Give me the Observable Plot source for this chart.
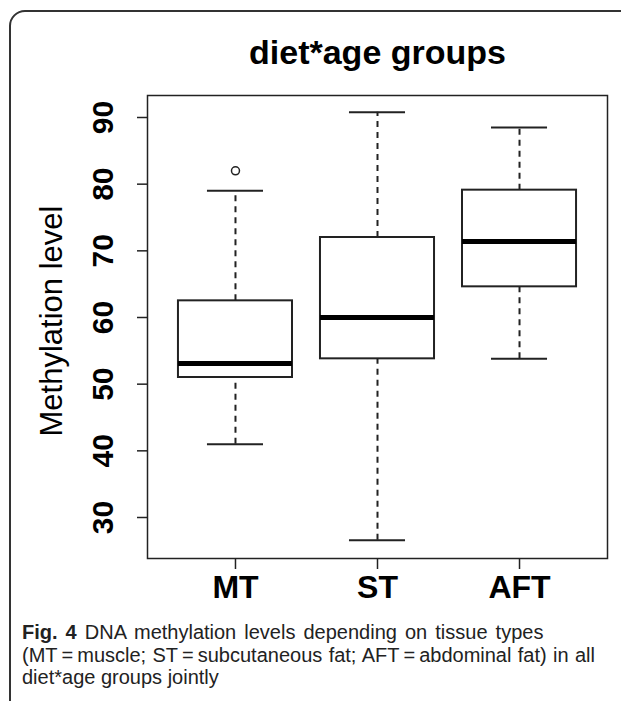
<!DOCTYPE html>
<html>
<head>
<meta charset="utf-8">
<script src="https://cdn.jsdelivr.net/npm/d3@7"></script>
<script src="https://cdn.jsdelivr.net/npm/@observablehq/plot@0.6"></script>
<style>
  html, body { margin: 0; padding: 0; background: #fff; }
  #wrap { position: relative; width: 621px; height: 701px; overflow: hidden; background: #fff; }
  #border { position: absolute; left: 9px; top: 10px; width: 660px; height: 760px;
            border: 2px solid #333; border-radius: 16px; box-sizing: border-box; }
  #chart { position: absolute; left: 0; top: 0; }
  #chart svg { background: transparent !important; }
  #caption { position: absolute; left: 22px; top: 621px; width: 595px; white-space: nowrap;
             font-family: "Liberation Sans", Arial, sans-serif; font-size: 20px; line-height: 22.5px; color: #222; }
  #caption b { font-weight: 700; }
  #caption .l1 { word-spacing: 2.5px; }
  #caption .l2 { word-spacing: 0.8px; }
</style>
</head>
<body>
<div id="wrap">
  <div id="border"></div>
  <div id="chart"></div>
  <div id="caption"><span class="l1"><b>Fig. 4</b> DNA methylation levels depending on tissue types</span><br><span class="l2">(MT&#8201;=&#8201;muscle; ST&#8201;=&#8201;subcutaneous fat; AFT&#8201;=&#8201;abdominal fat) in all</span><br>diet*age groups jointly</div>
</div>
<script>
// Data
const tissues = ["MT", "ST", "AFT"];
const whiskerLow = [41.0, 26.6, 53.8];
const q1 = [51.0, 53.8, 64.6];
const median = [53.1, 60.0, 71.4];
const q3 = [62.5, 72.0, 79.1];
const whiskerHigh = [79.0, 90.8, 88.5];
const outlierTissue = ["MT"];
const outlierValue = [82.0];
const yTicks = [30, 40, 50, 60, 70, 80, 90];
const title = "diet*age groups";
const yLabel = "Methylation level";

const boxes = tissues.map((t, i) => ({
  tissue: t, lo: whiskerLow[i], q1: q1[i], med: median[i], q3: q3[i], hi: whiskerHigh[i]
}));
const outliers = outlierTissue.map((t, i) => ({tissue: t, value: outlierValue[i]}));

const font = "'Liberation Sans', Arial, sans-serif";

const plot = Plot.plot({
  width: 621,
  height: 620,
  marginLeft: 147,
  marginRight: 14,
  marginTop: 95,
  marginBottom: 62,
  style: {fontFamily: font, background: "transparent", color: "#000"},
  x: {type: "band", domain: tissues, paddingInner: 0.197, paddingOuter: 0.218, round: false, axis: null},
  y: {domain: [23.85, 93.3], axis: null},
  marks: [
    Plot.axisY({ticks: yTicks, tickSize: 10, tickFormat: () => "", label: null, stroke: "#222", strokeWidth: 1.5}),
    Plot.axisX({tickSize: 11, tickFormat: () => "", label: null, stroke: "#222", strokeWidth: 1.5}),
    Plot.ruleX(boxes, {x: "tissue", y1: "q3", y2: "hi", stroke: "#222", strokeWidth: 2, strokeDasharray: "6,5"}),
    Plot.ruleX(boxes, {x: "tissue", y1: "lo", y2: "q1", stroke: "#222", strokeWidth: 2, strokeDasharray: "6,5"}),
    Plot.tickY(boxes, {x: "tissue", y: "hi", insetLeft: 29, insetRight: 29, stroke: "#222", strokeWidth: 2}),
    Plot.tickY(boxes, {x: "tissue", y: "lo", insetLeft: 29, insetRight: 29, stroke: "#222", strokeWidth: 2}),
    Plot.barY(boxes, {x: "tissue", y1: "q1", y2: "q3", fill: "white", stroke: "#222", strokeWidth: 2}),
    Plot.tickY(boxes, {x: "tissue", y: "med", stroke: "#000", strokeWidth: 5}),
    Plot.dot(outliers, {x: "tissue", y: "value", r: 4, stroke: "#222", strokeWidth: 1.5, fill: "none"}),
    Plot.frame({stroke: "#222", strokeWidth: 1.5}),
    Plot.text(yTicks, {y: d => d, text: d => String(d), frameAnchor: "left", textAnchor: "middle",
      rotate: -90, dx: -44, fontSize: 30, fontWeight: "bold", fill: "#000"}),
    Plot.text(tissues, {x: d => d, text: d => d, frameAnchor: "bottom", textAnchor: "middle",
      dy: 39, fontSize: 32, fontWeight: "bold", fill: "#000"}),
    Plot.text([yLabel], {frameAnchor: "left", text: d => d, textAnchor: "middle", rotate: -90,
      dx: -95, dy: -6, fontSize: 31, fill: "#000"}),
    Plot.text([title], {frameAnchor: "top", text: d => d, textAnchor: "middle",
      dy: -56, fontSize: 34, fontWeight: "bold", fill: "#000"})
  ]
});
document.getElementById("chart").appendChild(plot);
</script>
</body>
</html>
